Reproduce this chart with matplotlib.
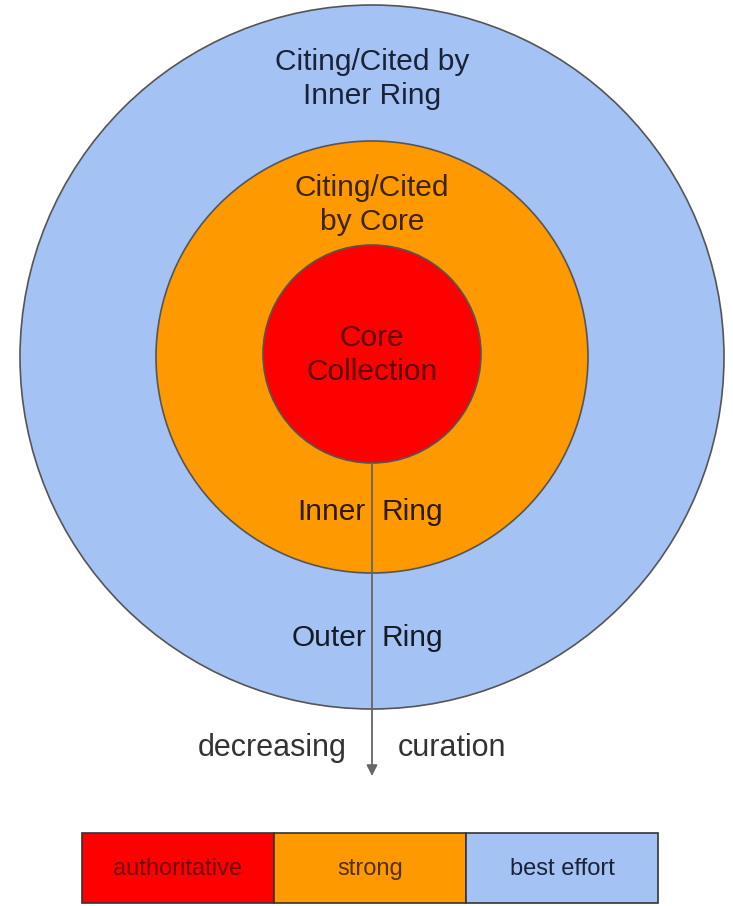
import matplotlib.pyplot as plt
from matplotlib.patches import Circle, Rectangle

# rings from outside to inside
ring_labels = ['Citing/Cited by\nInner Ring', 'Citing/Cited\nby Core', 'Core\nCollection']
ring_radii = [352, 216, 109]
ring_colors = ['#a4c2f4', '#ff9900', '#ff0000']
ring_text_colors = ['#1a2238', '#3d2400', '#5c0505']

legend_labels = ['authoritative', 'strong', 'best effort']
legend_colors = ['#ff0000', '#ff9900', '#a4c2f4']
legend_text_colors = ['#700808', '#553000', '#1a2238']

plt.rcParams['font.family'] = ['Liberation Sans', 'DejaVu Sans']

fig = plt.figure(figsize=(7.33, 9.06), dpi=100)
ax = fig.add_axes([0, 0, 1, 1])
ax.set_xlim(0, 733)
ax.set_ylim(906, 0)
ax.set_aspect('equal')
ax.axis('off')

cx = 372
centers_y = [357, 357, 354]
for r, c, y in zip(ring_radii, ring_colors, centers_y):
    ax.add_patch(Circle((cx, y), r, facecolor=c, edgecolor='#555555', lw=1.2))

text_y = [79, 205, 355]
for lab, ty, tc in zip(ring_labels, text_y, ring_text_colors):
    ax.text(cx, ty, lab, ha='center', va='center', fontsize=21.5, color=tc,
            linespacing=1.3)

# arrow of decreasing curation
ax.annotate('', xy=(cx, 776), xytext=(cx, 463),
            arrowprops=dict(arrowstyle='-|>', color='#666666', lw=1.3,
                            mutation_scale=16, shrinkA=0, shrinkB=0))

ax.text(366, 512, 'Inner', ha='right', va='center', fontsize=21.5, color='#2a1a00')
ax.text(382, 512, 'Ring', ha='left', va='center', fontsize=21.5, color='#2a1a00')
ax.text(366, 638, 'Outer', ha='right', va='center', fontsize=21.5, color='#151a25')
ax.text(382, 638, 'Ring', ha='left', va='center', fontsize=21.5, color='#151a25')
ax.text(347, 748, 'decreasing', ha='right', va='center', fontsize=22, color='#333333')
ax.text(398, 748, 'curation', ha='left', va='center', fontsize=22, color='#333333')

# legend strip
x0, w, y0, h = 82, 192, 833, 70
for i, (lab, c, tc) in enumerate(zip(legend_labels, legend_colors, legend_text_colors)):
    ax.add_patch(Rectangle((x0 + i * w, y0), w, h, facecolor=c,
                           edgecolor='#333333', lw=1.2))
    ax.text(x0 + i * w + w / 2, y0 + h / 2 + 1, lab, ha='center', va='center',
            fontsize=17, color=tc)

fig.savefig('out.png', dpi=100)
